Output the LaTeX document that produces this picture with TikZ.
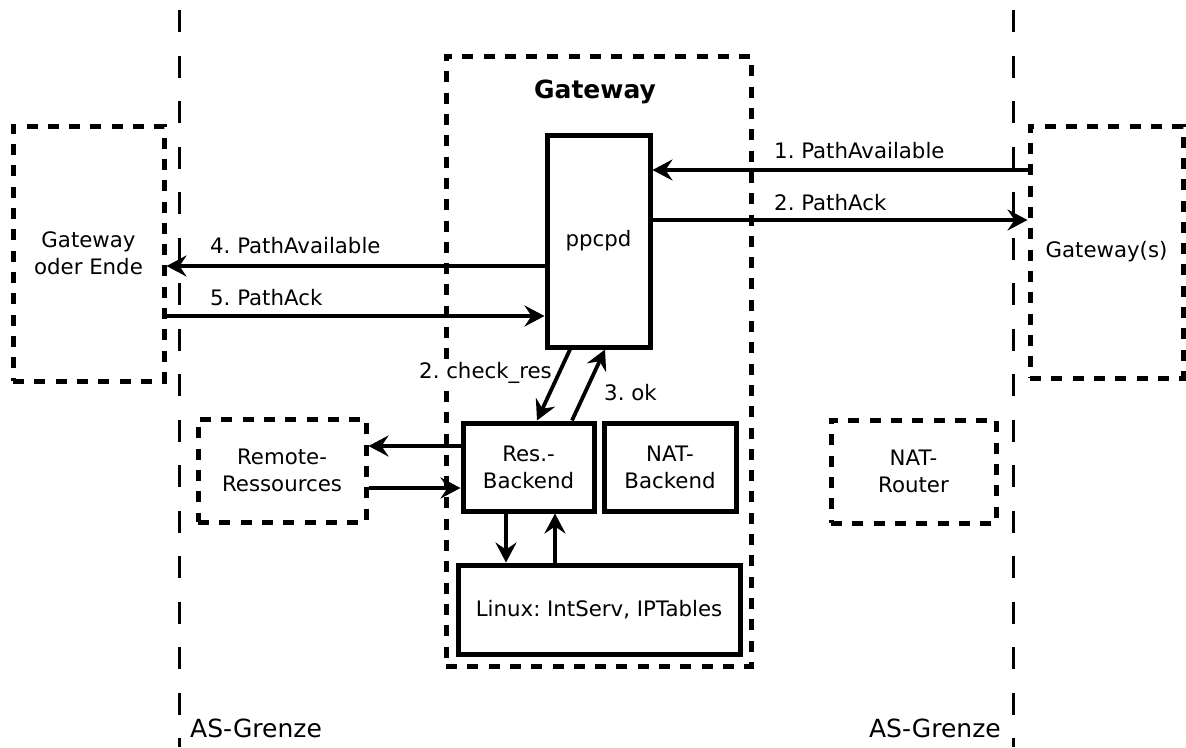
\documentclass[tikz,border=0pt]{standalone}
\usepackage{fontspec}
\setmainfont{DejaVu Sans}
\usetikzlibrary{arrows.meta}
\frenchspacing
\begin{document}
\begin{tikzpicture}[x=1pt,y=-1pt,
  every node/.style={font=\fontsize{21.3}{27}\selectfont, inner sep=0pt},
  solidbox/.style={draw, line width=5pt, align=center},
  dashbox/.style={draw, line width=5pt, dash pattern=on 11pt off 10.3pt, align=center},
  arr/.style={line width=3.8pt, -{Stealth[length=20pt,width=21pt,inset=7pt]}},
  border/.style={line width=3pt, dash pattern=on 22pt off 23.5pt},
  biglabel/.style={font=\fontsize{25}{30}\selectfont}
]
\useasboundingbox (0,0) rectangle (1186,747);

% AS boundaries
\coordinate (bl1) at (179,10);
\coordinate (bl2) at (179,747);
\coordinate (br1) at (1013,10);
\coordinate (br2) at (1013,747);
\draw[border] (bl1) -- (bl2);
\draw[border] (br1) -- (br2);
\node[biglabel, anchor=base west] (asl) at (190,737) {AS-Grenze};
\node[biglabel, anchor=base east] (asr) at (1001,737) {AS-Grenze};

% gateway frame
\node[dashbox, minimum width=305pt, minimum height=610pt] (gw) at (598.5,361) {};
\node[biglabel, font=\fontsize{25}{30}\selectfont\bfseries, anchor=base] (title) at (595,98) {Gateway};

% boxes
\node[dashbox, minimum width=151pt, minimum height=255pt] (lgw) at (88.5,253.5) {Gateway\\oder Ende};
\node[dashbox, minimum width=153pt, minimum height=252pt] (rgw) at (1106.5,252) {Gateway(s)};
\node[solidbox, minimum width=103pt, minimum height=212pt] (ppcpd) at (598.5,241) {ppcpd};
\node[solidbox, minimum width=131pt, minimum height=88pt] (res) at (528.5,467) {Res.-\\Backend};
\node[solidbox, minimum width=132pt, minimum height=88pt] (natb) at (670,467) {NAT-\\Backend};
\node[solidbox, minimum width=282pt, minimum height=89pt] (linux) at (599,609.5) {Linux: IntServ, IPTables};
\node[dashbox, minimum width=168pt, minimum height=103pt] (remote) at (282,470.5) {Remote-\\Ressources};
\node[dashbox, minimum width=165pt, minimum height=103pt] (natr) at (913.5,471.5) {NAT-\\Router};

% messages
\draw[arr] (rgw.west |- 0,170) -- (ppcpd.east |- 0,170);
\draw[arr] (ppcpd.east |- 0,220) -- (rgw.west |- 0,220);
\draw[arr] (ppcpd.west |- 0,266) -- (lgw.east |- 0,266);
\draw[arr] (lgw.east |- 0,316) -- (ppcpd.west |- 0,316);
\draw[arr] (ppcpd.south -| 570,0) -- (res.north -| 537,0);
\draw[arr] (res.north -| 572,0) -- (ppcpd.south -| 605,0);
\draw[arr] (res.west |- 0,446) -- (remote.east |- 0,446);
\draw[arr] (remote.east |- 0,488) -- (res.west |- 0,488);
\draw[arr] (res.south -| 506,0) -- (linux.north -| 506,0);
\draw[arr] (linux.north -| 555,0) -- (res.south -| 555,0);

% message labels
\node[anchor=base west] (m1) at (774,158) {1. PathAvailable};
\node[anchor=base west] (m2) at (774,210) {2. PathAck};
\node[anchor=base west] (m4) at (210,253) {4. PathAvailable};
\node[anchor=base west] (m5) at (210,305) {5. PathAck};
\node[anchor=base east, fill=white] (m6) at (552,378) {2. check\_res};
\node[anchor=base west] (m7) at (604,400) {3. ok};
\end{tikzpicture}
\end{document}
